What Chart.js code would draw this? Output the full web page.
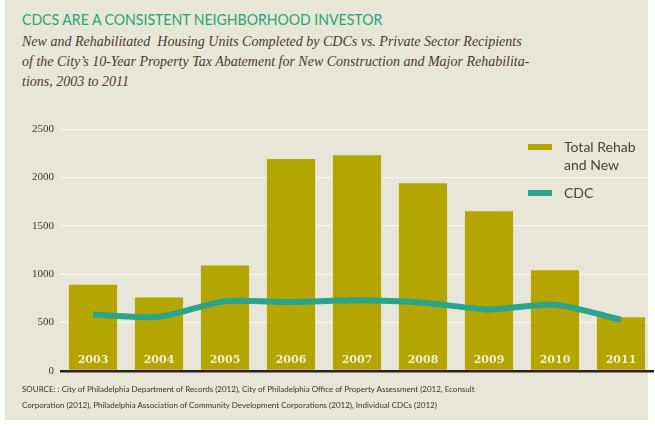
<!DOCTYPE html>
<html>
<head>
<meta charset="utf-8">
<script src="https://cdn.jsdelivr.net/npm/chart.js@4"></script>
<style>
  html, body { margin: 0; padding: 0; background: #ffffff; }
  #panel { position: absolute; left: 5px; top: 0; width: 643px; height: 420px; background: #e8e6d8; }
  #title { position: absolute; left: 22px; top: 9px; font: 16px Lato, sans-serif; color: #2aa37c; white-space: nowrap; transform: scaleX(0.88); transform-origin: left top; }
  #sub { position: absolute; left: 22px; top: 32px; font: italic 14px "Liberation Serif", serif; line-height: 20px; color: #4a3a30; white-space: nowrap; }
  #source { position: absolute; left: 22px; top: 381px; font: 8px Lato, sans-serif; line-height: 16px; color: #3a332d; white-space: nowrap; }
  .leg { position: absolute; font: 14px Lato, sans-serif; color: #4a403a; line-height: 18px; }
  .sw { position: absolute; width: 24px; height: 6px; }
  #wrap { position: absolute; left: 0; top: 100px; width: 655px; height: 290px; }
</style>
</head>
<body>
<div id="panel"></div>
<div id="title">CDCS ARE A CONSISTENT NEIGHBORHOOD INVESTOR</div>
<div id="sub">New and Rehabilitated&nbsp; Housing Units Completed by CDCs vs. Private Sector Recipients<br>of the City’s 10-Year Property Tax Abatement for New Construction and Major Rehabilita-<br>tions, 2003 to 2011</div>
<div id="wrap"><canvas id="chart"></canvas></div>
<div class="sw" style="left:528px; top:144px; background:#b5a500;"></div>
<div class="leg" style="left:564px; top:138px;">Total Rehab<br>and New</div>
<div class="sw" style="left:528px; top:190px; background:#2aa58a;"></div>
<div class="leg" style="left:564px; top:184px;">CDC</div>
<div id="source">SOURCE: : City of Philadelphia Department of Records (2012), City of Philadelphia Office of Property Assessment (2012, Econsult<br>Corporation (2012), Philadelphia Association of Community Development Corporations (2012), Individual CDCs (2012)</div>
<script>
const years = ['2003', '2004', '2005', '2006', '2007', '2008', '2009', '2010', '2011'];
const totalRehabNew = [890, 760, 1090, 2190, 2230, 1940, 1650, 1040, 555];
const cdcUnits = [580, 560, 720, 712, 730, 706, 636, 685, 530];
const yTicks = [0, 500, 1000, 1500, 2000, 2500];

// year labels sit inside the bars, just above the zero line
const yearLabels = {
  id: 'yearLabels',
  afterDatasetsDraw(chart) {
    const ctx = chart.ctx;
    const x = chart.scales.x;
    const y = chart.scales.y;
    ctx.save();
    ctx.font = 'bold 11px "DejaVu Serif", serif';
    ctx.fillStyle = '#f1eed6';
    ctx.textAlign = 'center';
    ctx.textBaseline = 'middle';
    years.forEach((yr, i) => {
      ctx.fillText(yr, x.getPixelForValue(i), y.getPixelForValue(0) - 11);
    });
    ctx.restore();
  }
};

new Chart(document.getElementById('chart'), {
  type: 'bar',
  data: {
    labels: years,
    datasets: [
      {
        type: 'line',
        label: 'CDC',
        data: cdcUnits,
        borderColor: '#2aa58a',
        borderWidth: 6,
        pointRadius: 0,
        tension: 0.25,
        order: 0,
      },
      {
        label: 'Total Rehab and New',
        data: totalRehabNew,
        backgroundColor: '#b5a500',
        borderWidth: 0,
        barPercentage: 0.73,
        categoryPercentage: 1,
        order: 1,
      },
    ],
  },
  options: {
    responsive: true,
    maintainAspectRatio: false,
    animation: false,
    layout: { padding: { top: 29, bottom: 19, left: 0, right: 1 } },
    plugins: { legend: { display: false }, tooltip: { enabled: false } },
    scales: {
      x: { display: false },
      y: {
        min: 0,
        max: 2500,
        afterFit(scale) { scale.width = 60; },
        afterBuildTicks(scale) { scale.ticks = yTicks.map((v) => ({ value: v })); },
        border: { display: false },
        grid: {
          drawTicks: false,
          color: (c) => (c.tick && c.tick.value === 0 ? '#2b2118' : '#f7f6ef'),
          lineWidth: (c) => (c.tick && c.tick.value === 0 ? 2.5 : 1),
        },
        ticks: {
          padding: 6,
          color: '#3d3530',
          font: { family: '"Liberation Serif", serif', size: 11 },
          callback: (v) => String(v),
        },
      },
    },
  },
  plugins: [yearLabels],
});
</script>
</body>
</html>
